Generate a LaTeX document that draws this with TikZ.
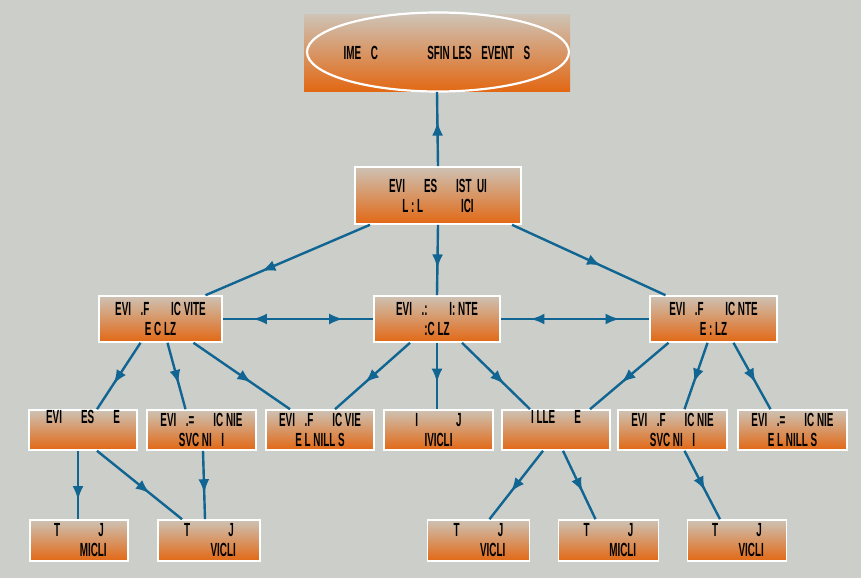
\documentclass[tikz,border=0pt]{standalone}
\usepackage{fontspec}
\newfontfamily\boxfont{Liberation Sans}[FakeStretch=0.52]
\usetikzlibrary{arrows.meta,decorations.markings,shapes.geometric}
\definecolor{bgcol}{RGB}{204,206,201}
\definecolor{toptan}{RGB}{206,194,180}
\definecolor{lowor}{RGB}{226,104,20}
\definecolor{linkcol}{RGB}{16,101,146}
\tikzset{
  box/.style={draw=white, line width=1.6pt, top color=toptan, bottom color=lowor,
    minimum height=#1, inner sep=0pt, align=center,
    font=\boxfont\bfseries\fontsize{19}{20}\selectfont},
  box/.default=40pt,
  link/.style={draw=linkcol, line width=2.4pt},
  fwd/.style={postaction={decorate,decoration={markings,
    mark=at position #1 with {\arrow{Latex[length=14pt,width=11pt]}}}}},
  fwd/.default=0.65,
  back/.style={postaction={decorate,decoration={markings,
    mark=at position #1 with {\arrowreversed{Latex[length=14pt,width=11pt]}}}}},
}
\begin{document}
\begin{tikzpicture}[x=1pt,y=-1pt]
\fill[bgcol] (0,0) rectangle (861,578);
\useasboundingbox (0,0) rectangle (861,578);

% root: shaded band with an elliptical outline
\node[box=76pt, draw=none, minimum width=266pt] (root) at (437,53)
  {IME\enspace C\hspace{2.6em}SFIN LES\enspace EVENT\enspace S};
\draw[white, line width=2.2pt] (438,52) ellipse (131 and 39.5);

% second level
\node[box=57pt, minimum width=166pt] (hub) at (438,195.5)
  {EVI\quad ES\quad IST\ \ UI\\L : L\qquad ICI};

% third level
\node[box=46pt, minimum width=123pt] (ca) at (160.5,319)
  {EVI\enspace .F\quad\ IC VITE\\E C LZ};
\node[box=46pt, minimum width=126pt] (cb) at (437,319)
  {EVI\enspace .:\quad\ I: NTE\\:C LZ};
\node[box=46pt, minimum width=127pt] (cc) at (713.5,319)
  {EVI\enspace .F\quad\ IC NTE\\E : LZ};

% fourth level
\node[box=40pt, minimum width=108pt] (da) at (83,430) {EVI\quad ES\quad E\\\strut};
\node[box=40pt, minimum width=109pt] (db) at (201.5,430) {EVI\enspace .=\quad IC NIE\\SVC NI\enspace I};
\node[box=40pt, minimum width=108pt] (dc) at (320,430) {EVI\enspace .F\quad IC VIE\\E L NILL S};
\node[box=40pt, minimum width=109pt] (dd) at (438.5,430) {I\qquad J\\IVICLI};
\node[box=40pt, minimum width=108pt] (de) at (556,430) {I LLE\quad E\\\strut};
\node[box=40pt, minimum width=109pt] (df) at (672.5,430) {EVI\enspace .F\quad IC NIE\\SVC NI\enspace I};
\node[box=40pt, minimum width=109pt] (dg) at (792.5,430) {EVI\enspace .=\quad IC NIE\\E L NILL S};

% fifth level
\node[box=41pt, minimum width=98pt] (ea) at (79,540.5) {T\qquad J\\\hspace{1.5em}MICLI};
\node[box=41pt, minimum width=102pt] (eb) at (209,540.5) {T\qquad J\\\hspace{1.5em}VICLI};
\node[box=41pt, minimum width=102pt] (ec) at (478.5,540.5) {T\qquad J\\\hspace{1.5em}VICLI};
\node[box=41pt, minimum width=100pt] (ed) at (608.5,540.5) {T\qquad J\\\hspace{1.5em}MICLI};
\node[box=41pt, minimum width=99pt] (ee) at (737,540.5) {T\qquad J\\\hspace{1.5em}VICLI};

% links
\draw[link,fwd=0.6] (hub.north) -- (root.south);
\draw[link,fwd=0.66] ([xshift=-68pt]hub.south) -- ([xshift=45pt]ca.north);
\draw[link,fwd=0.62] (hub.south) -- (cb.north);
\draw[link,fwd=0.58] ([xshift=74pt]hub.south) -- ([xshift=-48pt]cc.north);

\draw[link,fwd=0.8,back=0.2] (ca.east) -- (cb.west);
\draw[link,fwd=0.8,back=0.2] (cb.east) -- (cc.west);

\draw[link,fwd=0.62] ([xshift=-20pt]ca.south) -- ([xshift=14pt]da.north);
\draw[link,fwd=0.62] ([xshift=7pt]ca.south) -- ([xshift=-16pt]db.north);
\draw[link,fwd=0.6] ([xshift=33pt]ca.south) -- ([xshift=-30pt]dc.north);
\draw[link,fwd=0.6] ([xshift=-27pt]cb.south) -- ([xshift=15pt]dc.north);
\draw[link,fwd=0.6] (cb.south) -- ([xshift=-1.5pt]dd.north);
\draw[link,fwd=0.62] ([xshift=25pt]cb.south) -- ([xshift=-26pt]de.north);
\draw[link,fwd=0.6] ([xshift=-45pt]cc.south) -- ([xshift=34pt]de.north);
\draw[link,fwd=0.6] ([xshift=-6pt]cc.south) -- ([xshift=12pt]df.north);
\draw[link,fwd=0.6] ([xshift=20pt]cc.south) -- ([xshift=-22pt]dg.north);

\draw[link,fwd=0.72] ([xshift=-5pt]da.south) -- ([xshift=-1pt]ea.north);
\draw[link,fwd=0.62] ([xshift=14pt]da.south) -- ([xshift=-27pt]eb.north);
\draw[link,fwd=0.62] ([xshift=1.5pt]db.south) -- ([xshift=-4pt]eb.north);
\draw[link,fwd=0.6] ([xshift=-13pt]de.south) -- ([xshift=11pt]ec.north);
\draw[link,fwd=0.6] ([xshift=7pt]de.south) -- ([xshift=-13pt]ed.north);
\draw[link,fwd=0.58] ([xshift=12pt]df.south) -- ([xshift=-17pt]ee.north);
\end{tikzpicture}
\end{document}
